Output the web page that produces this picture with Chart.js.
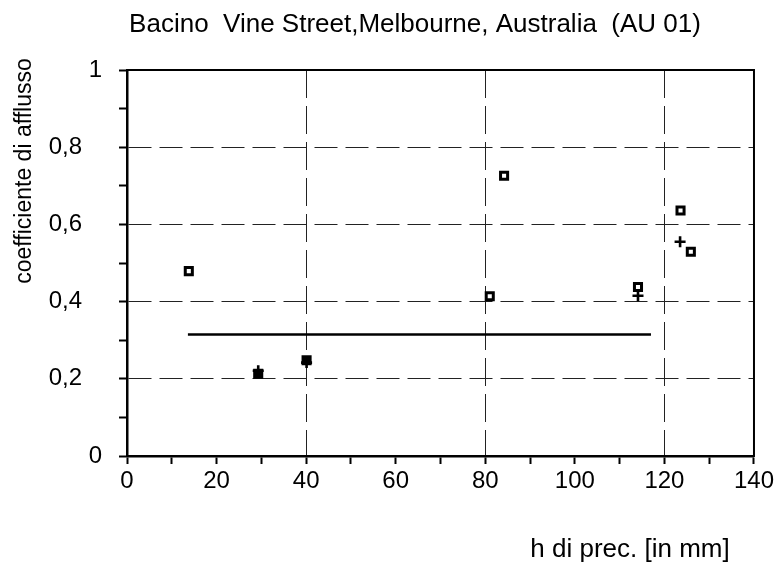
<!DOCTYPE html>
<html>
<head>
<meta charset="utf-8">
<script src="https://cdn.jsdelivr.net/npm/chart.js@4/dist/chart.umd.min.js"></script>
<style>
html, body { margin: 0; padding: 0; background: #fff; }
</style>
</head>
<body>
<canvas id="runoffChart" width="777" height="567"></canvas>
<script>
var chartTitle = "Bacino  Vine Street,Melbourne, Australia  (AU 01)";
var xTitle = "h di prec. [in mm]";
var yTitle = "coefficiente di afflusso";

// open squares
var rainSquares = [13.8, 81.0, 84.2, 114.1, 123.6, 125.9];
var coefSquares = [0.479, 0.414, 0.726, 0.438, 0.636, 0.529];
// filled squares
var rainFilled = [29.3, 40.1];
var coefFilled = [0.213, 0.248];
// crosses
var rainCrosses = [29.3, 40.1, 114.1, 123.5];
var coefCrosses = [0.221, 0.242, 0.415, 0.555];
// horizontal mean line
var meanRain = [13.6, 117];
var meanCoef = [0.315, 0.315];

var xTickLabels = ['0', '20', '40', '60', '80', '100', '120', '140'];
var yTickLabels = ['0', '0,2', '0,4', '0,6', '0,8', '1'];

var font = '"Liberation Sans", Arial, Helvetica, sans-serif';

function toPoints(xs, ys) {
    return xs.map(function (x, i) { return { x: x, y: ys[i] }; });
}

var framePlugin = {
    id: 'frame',
    beforeDatasetsDraw: function (chart) {
        var a = chart.chartArea, c = chart.ctx;
        c.save();
        c.strokeStyle = '#000';
        c.lineWidth = 2;
        c.strokeRect(a.left, a.top, a.right - a.left, a.bottom - a.top);
        c.restore();
    },
    afterDraw: function (chart) {
        var c = chart.ctx;
        c.save();
        c.fillStyle = '#000';
        c.textAlign = 'center';
        c.textBaseline = 'alphabetic';
        c.font = '26px ' + font;
        c.fillText(chartTitle, 415, 32);
        c.fillText(xTitle, 630, 557);
        c.translate(31, 171);
        c.rotate(-Math.PI / 2);
        c.font = '23px ' + font;
        c.fillText(yTitle, 0, 0);
        c.restore();
    }
};

var ctx = document.getElementById('runoffChart').getContext('2d');
var myChart = new Chart(ctx, {
    type: 'scatter',
    data: {
        datasets: [{
            data: toPoints(meanRain, meanCoef),
            type: 'line',
            showLine: true,
            borderColor: '#000',
            borderWidth: 2.5,
            pointRadius: 0
        }, {
            data: toPoints(rainSquares, coefSquares),
            pointStyle: 'rect',
            pointRadius: 5,
            borderWidth: 3,
            borderColor: '#000',
            backgroundColor: '#fff'
        }, {
            data: toPoints(rainFilled, coefFilled),
            pointStyle: 'rect',
            pointRadius: 5,
            borderWidth: 3,
            borderColor: '#000',
            backgroundColor: '#000'
        }, {
            data: toPoints(rainCrosses, coefCrosses),
            pointStyle: 'cross',
            pointRadius: 5.5,
            borderWidth: 2.6,
            borderColor: '#000'
        }]
    },
    options: {
        responsive: false,
        animation: false,
        devicePixelRatio: 1,
        layout: { padding: { top: 70, right: 20, bottom: 0, left: 0 } },
        plugins: { legend: { display: false }, tooltip: { enabled: false } },
        scales: {
            x: {
                type: 'linear',
                min: 0,
                max: 140,
                afterFit: function (s) { s.height = 111; },
                ticks: {
                    stepSize: 10,
                    autoSkip: false,
                    maxRotation: 0,
                    padding: 3,
                    color: '#000',
                    font: { family: font, size: 24 },
                    callback: function (v) { return v % 20 ? '' : xTickLabels[v / 20]; }
                },
                grid: {
                    color: function (c) {
                        if (!c.tick) return 'transparent';
                        var v = c.tick.value;
                        return (v % 40 === 0 && v > 0 && v < 140) ? '#222' : 'transparent';
                    },
                    lineWidth: 1,
                    tickLength: 8,
                    tickWidth: 2,
                    tickColor: '#000'
                },
                border: { color: '#000', width: 2.5, dash: [28, 8] }
            },
            y: {
                type: 'linear',
                min: 0,
                max: 1,
                afterFit: function (s) { s.width = 127; },
                ticks: {
                    stepSize: 0.1,
                    autoSkip: false,
                    padding: 17,
                    color: '#000',
                    font: { family: font, size: 24 },
                    callback: function (v) {
                        var k = Math.round(v * 10);
                        if (k % 2) return '';
                        var t = yTickLabels[k / 2];
                        return t.length > 1 ? t + '   ' : t;
                    }
                },
                grid: {
                    color: function (c) {
                        if (!c.tick) return 'transparent';
                        var k = Math.round(c.tick.value * 10);
                        return (k % 2 === 0 && k > 0 && k < 10) ? '#222' : 'transparent';
                    },
                    lineWidth: 1,
                    tickLength: 8,
                    tickWidth: 2,
                    tickColor: '#000'
                },
                border: { color: '#000', width: 2.5, dash: [23, 8] }
            }
        }
    },
    plugins: [framePlugin]
});
</script>
</body>
</html>
